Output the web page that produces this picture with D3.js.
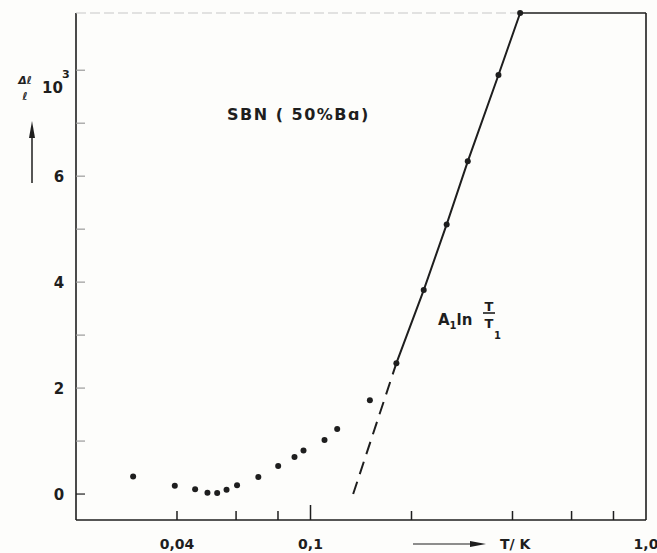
<!DOCTYPE html>
<html>
<head>
<meta charset="utf-8">
<script src="https://cdn.jsdelivr.net/npm/d3@7"></script>
<style>
  html, body { margin: 0; padding: 0; background: #fdfdfb; }
  svg { display: block; }
  text { font-family: "DejaVu Sans", sans-serif; fill: #1e1e1e; }
</style>
</head>
<body>
<div id="chart"></div>
<script>
// ---- data ----
const lowT = [0.0296, 0.0394, 0.0453, 0.0493, 0.0527, 0.0562, 0.0604, 0.0699, 0.0801, 0.0896, 0.0953, 0.1101, 0.1201, 0.1503];
const lowD = [0.33, 0.155, 0.09, 0.025, 0.02, 0.08, 0.165, 0.32, 0.53, 0.70, 0.82, 1.02, 1.23, 1.77];
const fitT = [0.1803, 0.2175, 0.2546, 0.2943, 0.3633, 0.4216];
const fitD = [2.47, 3.85, 5.09, 6.28, 7.91, 9.08];
const dashT = [0.134, 0.1803];
const dashD = [0.0, 2.47];
const xTickValues = [0.04, 0.06, 0.08, 0.1, 0.2, 0.4, 0.6, 0.8];
const xLabelValues = [0.04, 0.1, 1.0];
const xLabelTexts = ["0,04", "0,1", "1,0"];
const yTickValues = [0, 1, 2, 3, 4, 5, 6, 7, 8];
const yLabelValues = [0, 2, 4, 6];
const yLabelTexts = ["0", "2", "4", "6"];
const xDomain = [0.02, 1.0];
const yDomain = [-0.49, 9.08];

// ---- layout ----
const W = 657, H = 553;
const L = 76, R = 646, T = 13, B = 520;

const svg = d3.select("#chart").append("svg").attr("width", W).attr("height", H);

const x = d3.scaleLog().domain(xDomain).range([L, R]);
const y = d3.scaleLinear().domain(yDomain).range([B, T]);

const ink = "#1e1e1e";

// frame
svg.append("line").attr("x1", x(xDomain[0])).attr("x2", x(xDomain[0])).attr("y1", y(yDomain[0])).attr("y2", y(yDomain[1]))
  .attr("stroke", ink).attr("stroke-width", 1.6);
svg.append("line").attr("x1", x(xDomain[0])).attr("x2", x(xDomain[1])).attr("y1", y(yDomain[0])).attr("y2", y(yDomain[0]))
  .attr("stroke", ink).attr("stroke-width", 1.6);
svg.append("line").attr("x1", x(xDomain[1])).attr("x2", x(xDomain[1])).attr("y1", y(yDomain[0])).attr("y2", y(yDomain[1]))
  .attr("stroke", ink).attr("stroke-width", 1.6);
// top border: faint on the left, dark on the right
svg.append("line").attr("x1", x(xDomain[0])).attr("x2", x(0.42)).attr("y1", y(yDomain[1])).attr("y2", y(yDomain[1]))
  .attr("stroke", "#c8c8c8").attr("stroke-width", 1.2).attr("stroke-dasharray", "10 4");
svg.append("line").attr("x1", x(0.42)).attr("x2", x(xDomain[1])).attr("y1", y(yDomain[1])).attr("y2", y(yDomain[1]))
  .attr("stroke", ink).attr("stroke-width", 1.6);

// x ticks (inward)
svg.append("g").selectAll("line").data(xTickValues).join("line")
  .attr("x1", d => x(d)).attr("x2", d => x(d))
  .attr("y1", y(yDomain[0])).attr("y2", d => y(yDomain[0]) - (d === 0.1 ? 15 : 9))
  .attr("stroke", ink).attr("stroke-width", 1.5);

// y ticks (inward)
svg.append("g").selectAll("line").data(yTickValues).join("line")
  .attr("x1", x(xDomain[0])).attr("x2", x(xDomain[0]) + 9)
  .attr("y1", d => y(d)).attr("y2", d => y(d))
  .attr("stroke", d => d === 0 ? ink : "#9a9a9a").attr("stroke-width", 1.2);

// x tick labels
svg.append("g").selectAll("text").data(xLabelValues).join("text")
  .attr("x", d => x(d)).attr("y", 549)
  .attr("text-anchor", "middle").attr("font-size", 14).attr("font-weight", "bold")
  .text((d, i) => xLabelTexts[i]);

// y tick labels
svg.append("g").selectAll("text").data(yLabelValues).join("text")
  .attr("x", 59).attr("y", d => y(d) + 6)
  .attr("text-anchor", "middle").attr("font-size", 15).attr("font-weight", "bold")
  .text((d, i) => yLabelTexts[i]);

// x-axis title with arrow
const arrowY = 544;
svg.append("line").attr("x1", 413).attr("x2", 472).attr("y1", arrowY).attr("y2", arrowY)
  .attr("stroke", ink).attr("stroke-width", 1.2);
svg.append("path").attr("d", `M470,${arrowY - 3} L486,${arrowY} L470,${arrowY + 3} Z`).attr("fill", ink);
svg.append("text").attr("x", 500).attr("y", 549).attr("font-size", 14).attr("font-weight", "bold").text("T/ K");

// y-axis title: Δℓ/ℓ 10³ with arrow
const yt = svg.append("g");
yt.append("text").attr("x", 25).attr("y", 84).attr("text-anchor", "middle").attr("font-size", 11).attr("font-style", "italic").attr("font-weight", "bold").text("Δℓ");
yt.append("text").attr("x", 25).attr("y", 100).attr("text-anchor", "middle").attr("font-size", 11).attr("font-style", "italic").attr("font-weight", "bold").text("ℓ");
yt.append("text").attr("x", 42).attr("y", 93).attr("font-size", 15).attr("font-weight", "bold").text("10");
yt.append("text").attr("x", 62).attr("y", 78).attr("font-size", 11).attr("font-weight", "bold").text("3");
yt.append("line").attr("x1", 32).attr("x2", 32).attr("y1", 135).attr("y2", 183).attr("stroke", ink).attr("stroke-width", 1.5);
yt.append("path").attr("d", "M29,138 L32,121 L35,138 Z").attr("fill", ink);

// annotation texts
svg.append("text").attr("x", 227).attr("y", 120).attr("font-size", 16).attr("font-weight", "bold")
  .attr("letter-spacing", 1.5).text("SBN ( 50%Bɑ)");

const ann = svg.append("text").attr("x", 438).attr("y", 325).attr("font-size", 15).attr("font-weight", "bold");
ann.append("tspan").text("A");
ann.append("tspan").attr("font-size", 10).attr("dy", 4).text("1");
ann.append("tspan").attr("dy", -4).text("ln");
// fraction T / T1
svg.append("text").attr("x", 489).attr("y", 311).attr("text-anchor", "middle").attr("font-size", 13).attr("font-weight", "bold").text("T");
svg.append("line").attr("x1", 483).attr("x2", 495).attr("y1", 313).attr("y2", 313).attr("stroke", ink).attr("stroke-width", 1.6);
svg.append("text").attr("x", 489).attr("y", 328).attr("text-anchor", "middle").attr("font-size", 13).attr("font-weight", "bold").text("T");
svg.append("text").attr("x", 494).attr("y", 339).attr("font-size", 10).attr("font-weight", "bold").text("1");

// fitted line A1 ln(T/T1): dashed extrapolation and solid fit
const line = d3.line().x(d => x(d[0])).y(d => y(d[1]));
svg.append("path").datum(dashT.map((t, i) => [t, dashD[i]])).attr("d", line)
  .attr("fill", "none").attr("stroke", ink).attr("stroke-width", 2).attr("stroke-dasharray", "13 8");
svg.append("path").datum(fitT.map((t, i) => [t, fitD[i]])).attr("d", line)
  .attr("fill", "none").attr("stroke", ink).attr("stroke-width", 2);

// points
svg.append("g").selectAll("circle").data(lowT.map((t, i) => [t, lowD[i]])).join("circle")
  .attr("cx", d => x(d[0])).attr("cy", d => y(d[1])).attr("r", 3).attr("fill", ink);
svg.append("g").selectAll("circle").data(fitT.map((t, i) => [t, fitD[i]])).join("circle")
  .attr("cx", d => x(d[0])).attr("cy", d => y(d[1])).attr("r", 3).attr("fill", ink);
</script>
</body>
</html>
